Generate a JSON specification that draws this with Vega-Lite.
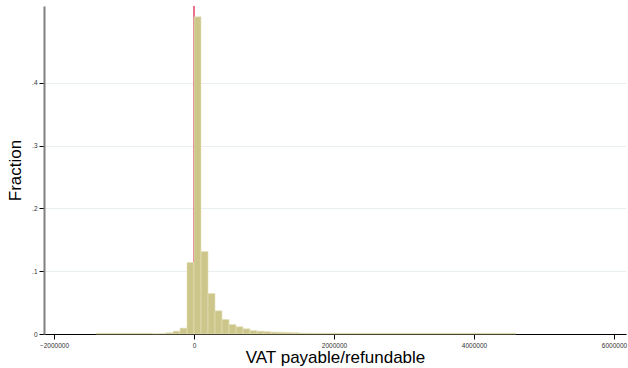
{
  "$schema": "https://vega.github.io/schema/vega-lite/v6.json",
  "width": 582,
  "height": 328,
  "autosize": {"type": "none"},
  "padding": {"left": 44, "top": 6, "right": 2, "bottom": 34},
  "background": "white",
  "config": {
    "view": {"stroke": null},
    "font": "Liberation Sans"
  },
  "datasets": {
    "bins": [
      {"bin_start": -1400000, "bin_end": -1300000, "fraction": 0.0012},
      {"bin_start": -1300000, "bin_end": -1200000, "fraction": 0.0012},
      {"bin_start": -1200000, "bin_end": -1100000, "fraction": 0.0012},
      {"bin_start": -1100000, "bin_end": -1000000, "fraction": 0.0012},
      {"bin_start": -1000000, "bin_end": -900000, "fraction": 0.0012},
      {"bin_start": -900000, "bin_end": -800000, "fraction": 0.0012},
      {"bin_start": -800000, "bin_end": -700000, "fraction": 0.0012},
      {"bin_start": -700000, "bin_end": -600000, "fraction": 0.0012},
      {"bin_start": -600000, "bin_end": -500000, "fraction": 0.0006},
      {"bin_start": -500000, "bin_end": -400000, "fraction": 0.0008},
      {"bin_start": -400000, "bin_end": -300000, "fraction": 0.002},
      {"bin_start": -300000, "bin_end": -200000, "fraction": 0.0045},
      {"bin_start": -200000, "bin_end": -100000, "fraction": 0.0093},
      {"bin_start": -100000, "bin_end": 0, "fraction": 0.1138},
      {"bin_start": 0, "bin_end": 100000, "fraction": 0.505},
      {"bin_start": 100000, "bin_end": 200000, "fraction": 0.1314},
      {"bin_start": 200000, "bin_end": 300000, "fraction": 0.0645},
      {"bin_start": 300000, "bin_end": 400000, "fraction": 0.0369},
      {"bin_start": 400000, "bin_end": 500000, "fraction": 0.0231},
      {"bin_start": 500000, "bin_end": 600000, "fraction": 0.0151},
      {"bin_start": 600000, "bin_end": 700000, "fraction": 0.0115},
      {"bin_start": 700000, "bin_end": 800000, "fraction": 0.0083},
      {"bin_start": 800000, "bin_end": 900000, "fraction": 0.0056},
      {"bin_start": 900000, "bin_end": 1000000, "fraction": 0.0045},
      {"bin_start": 1000000, "bin_end": 1100000, "fraction": 0.0038},
      {"bin_start": 1100000, "bin_end": 1200000, "fraction": 0.003},
      {"bin_start": 1200000, "bin_end": 1300000, "fraction": 0.0028},
      {"bin_start": 1300000, "bin_end": 1400000, "fraction": 0.0024},
      {"bin_start": 1400000, "bin_end": 1500000, "fraction": 0.002},
      {"bin_start": 1500000, "bin_end": 1600000, "fraction": 0.0014},
      {"bin_start": 1600000, "bin_end": 1700000, "fraction": 0.0013},
      {"bin_start": 1700000, "bin_end": 1800000, "fraction": 0.0012},
      {"bin_start": 1800000, "bin_end": 1900000, "fraction": 0.0012},
      {"bin_start": 1900000, "bin_end": 2000000, "fraction": 0.0012},
      {"bin_start": 2000000, "bin_end": 2100000, "fraction": 0.0012},
      {"bin_start": 2100000, "bin_end": 2200000, "fraction": 0.0012},
      {"bin_start": 2200000, "bin_end": 2300000, "fraction": 0.0012},
      {"bin_start": 2300000, "bin_end": 2400000, "fraction": 0.0012},
      {"bin_start": 2400000, "bin_end": 2500000, "fraction": 0.0012},
      {"bin_start": 2500000, "bin_end": 2600000, "fraction": 0.0012},
      {"bin_start": 2600000, "bin_end": 2700000, "fraction": 0.0012},
      {"bin_start": 2700000, "bin_end": 2800000, "fraction": 0.0012},
      {"bin_start": 2800000, "bin_end": 2900000, "fraction": 0.0012},
      {"bin_start": 2900000, "bin_end": 3000000, "fraction": 0.0012},
      {"bin_start": 3000000, "bin_end": 3100000, "fraction": 0.0012},
      {"bin_start": 3100000, "bin_end": 3200000, "fraction": 0.0012},
      {"bin_start": 3200000, "bin_end": 3300000, "fraction": 0.0012},
      {"bin_start": 3300000, "bin_end": 3400000, "fraction": 0.0012},
      {"bin_start": 3400000, "bin_end": 3500000, "fraction": 0.0012},
      {"bin_start": 3500000, "bin_end": 3600000, "fraction": 0.0012},
      {"bin_start": 3600000, "bin_end": 3700000, "fraction": 0.0012},
      {"bin_start": 3700000, "bin_end": 3800000, "fraction": 0.0012},
      {"bin_start": 3800000, "bin_end": 3900000, "fraction": 0.0012},
      {"bin_start": 3900000, "bin_end": 4000000, "fraction": 0.0012},
      {"bin_start": 4000000, "bin_end": 4100000, "fraction": 0.0012},
      {"bin_start": 4100000, "bin_end": 4200000, "fraction": 0.0012},
      {"bin_start": 4200000, "bin_end": 4300000, "fraction": 0.0012},
      {"bin_start": 4300000, "bin_end": 4400000, "fraction": 0.0012},
      {"bin_start": 4400000, "bin_end": 4500000, "fraction": 0.0012},
      {"bin_start": 4500000, "bin_end": 4600000, "fraction": 0.0012}
    ],
    "refline": [{"x": 0}]
  },
  "layer": [
    {
      "data": {"name": "refline"},
      "mark": {"type": "rule", "color": "#d8143c", "strokeWidth": 1.2},
      "encoding": {
        "x": {"field": "x", "type": "quantitative", "scale": {"domain": [-2142857, 6171428], "nice": false, "zero": false}}
      }
    },
    {
      "data": {"name": "bins"},
      "mark": {"type": "rect", "fill": "#cdc68b", "stroke": "#e4e0bd", "strokeWidth": 0.6, "opacity": 1, "fillOpacity": 1},
      "encoding": {
        "x": {
          "field": "bin_start",
          "type": "quantitative",
          "scale": {"domain": [-2142857, 6171428], "nice": false, "zero": false},
          "axis": {
            "title": "VAT payable/refundable",
            "titleFontSize": 17,
            "titleFontWeight": "normal",
            "titleColor": "#000000",
            "titlePadding": 1,
            "values": [-2000000, 0, 2000000, 4000000, 6000000],
            "format": "d",
            "labelFontSize": 6.5,
            "labelColor": "#333333",
            "labelPadding": 3,
            "labelFlush": false,
            "tickSize": 5,
            "tickColor": "#000000",
            "domainColor": "#000000",
            "domainWidth": 1,
            "grid": false
          }
        },
        "x2": {"field": "bin_end"},
        "y": {
          "field": "fraction",
          "type": "quantitative",
          "scale": {"domain": [0, 0.5223], "nice": false},
          "axis": {
            "title": "Fraction",
            "titleFontSize": 17,
            "titleFontWeight": "normal",
            "titleColor": "#000000",
            "titlePadding": 7,
            "values": [0, 0.1, 0.2, 0.3, 0.4],
            "labelExpr": "datum.value == 0 ? '0' : substring(format(datum.value, '.1f'), 1)",
            "labelFontSize": 6.5,
            "labelColor": "#333333",
            "labelPadding": 2,
            "tickSize": 5,
            "tickColor": "#000000",
            "domainColor": "#808080",
            "domainWidth": 2,
            "grid": true,
            "gridColor": "#e8eff1",
            "gridWidth": 1
          }
        },
        "y2": {"datum": 0}
      }
    }
  ]
}
